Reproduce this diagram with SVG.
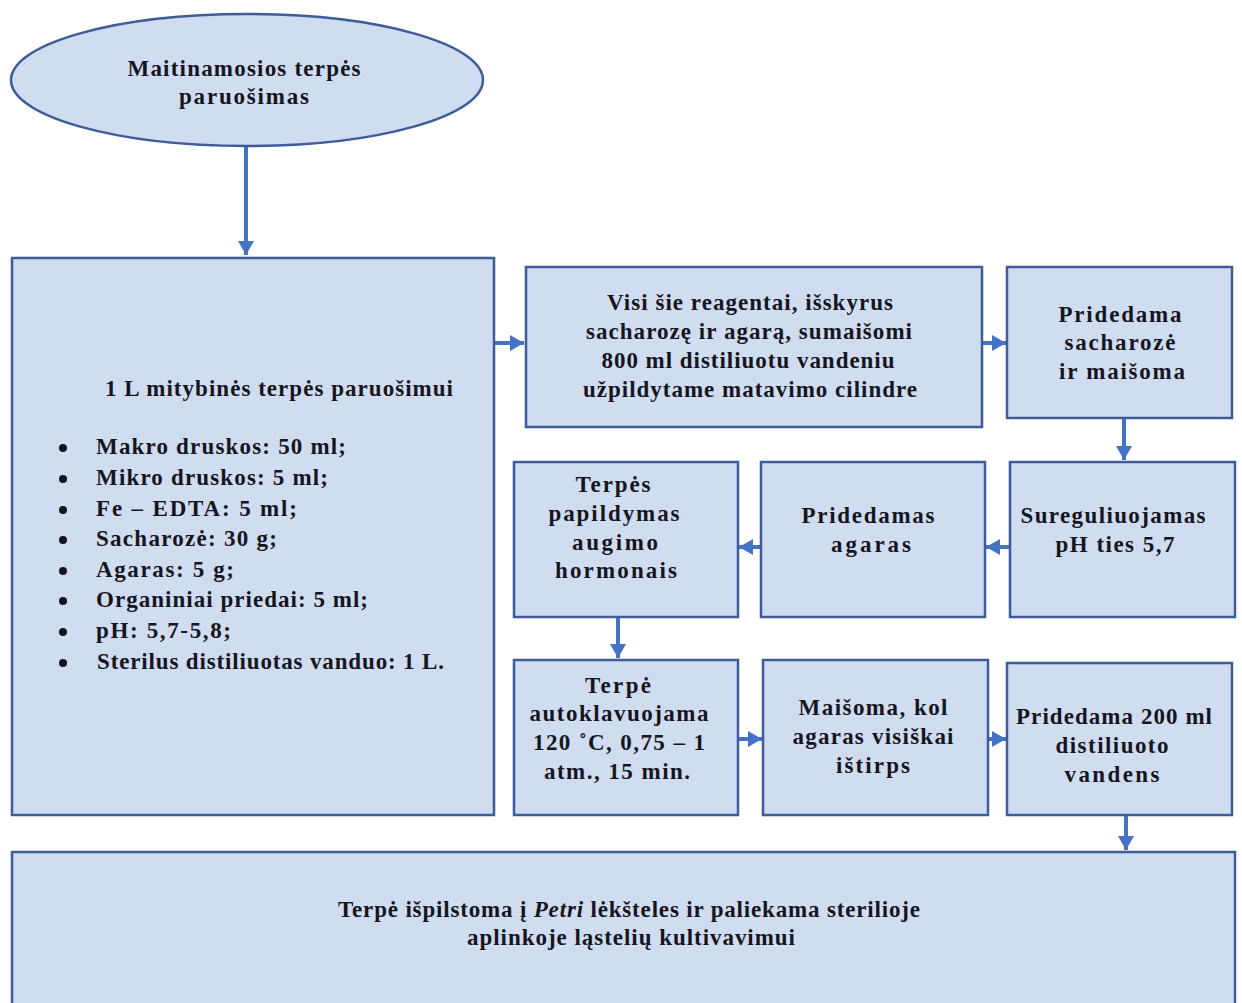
<svg xmlns="http://www.w3.org/2000/svg" width="1242" height="1003" viewBox="0 0 1242 1003">
<style>
.box{fill:#D0DDF0;stroke:#3E5C9A;stroke-width:2.5}
.t{font-family:"Liberation Serif","Times New Roman",serif;font-weight:bold;font-size:23px;fill:#15151f;text-anchor:middle}
.l{text-anchor:start}
.c{fill:none;stroke:#4472C4;stroke-width:4;marker-end:url(#ah)}
</style>
<defs>
<marker id="ah" markerUnits="userSpaceOnUse" markerWidth="16" markerHeight="16" refX="14" refY="8" orient="auto">
<path d="M0,0 L14,8 L0,16 Z" fill="#4472C4"/>
</marker>
</defs>
<rect width="1242" height="1003" fill="#fff"/>
<g id="connectors">
<path class="c" d="M246,147 V255"/>
<path class="c" d="M495,343 H524"/>
<path class="c" d="M983,343 H1006"/>
<path class="c" d="M1124,419 V460"/>
<path class="c" d="M1010,547 H986"/>
<path class="c" d="M761,547 H739"/>
<path class="c" d="M618,618 V658"/>
<path class="c" d="M739,739 H762"/>
<path class="c" d="M989,739 H1006"/>
<path class="c" d="M1126,816 V850"/>
</g>
<g id="start">
<ellipse class="box" cx="247" cy="80" rx="236" ry="66"/>
<text class="t" x="244" y="76" textLength="233" lengthAdjust="spacing">Maitinamosios terpės</text>
<text class="t" x="244" y="104" textLength="130" lengthAdjust="spacing">paruošimas</text>
</g>
<g id="ingredients">
<rect class="box" x="12" y="258" width="482" height="557"/>
<text class="t" x="279" y="396" textLength="348" lengthAdjust="spacing">1 L mitybinės terpės paruošimui</text>
<text class="t l" x="96" y="454" textLength="250" lengthAdjust="spacing">Makro druskos: 50 ml;</text>
<text class="t l" x="96" y="485" textLength="232" lengthAdjust="spacing">Mikro druskos: 5 ml;</text>
<text class="t l" x="96" y="516" textLength="201" lengthAdjust="spacing">Fe – EDTA: 5 ml;</text>
<text class="t l" x="96" y="546" textLength="181" lengthAdjust="spacing">Sacharozė: 30 g;</text>
<text class="t l" x="96" y="577" textLength="138" lengthAdjust="spacing">Agaras: 5 g;</text>
<text class="t l" x="96" y="607" textLength="272" lengthAdjust="spacing">Organiniai priedai: 5 ml;</text>
<text class="t l" x="96" y="638" textLength="135" lengthAdjust="spacing">pH: 5,7-5,8;</text>
<text class="t l" x="97" y="669" textLength="347" lengthAdjust="spacing">Sterilus distiliuotas vanduo: 1 L.</text>
<g fill="#15151f">
<circle cx="63" cy="448" r="4"/>
<circle cx="63" cy="479" r="4"/>
<circle cx="63" cy="510" r="4"/>
<circle cx="63" cy="540" r="4"/>
<circle cx="63" cy="571" r="4"/>
<circle cx="63" cy="601" r="4"/>
<circle cx="63" cy="632" r="4"/>
<circle cx="63" cy="663" r="4"/>
</g>
</g>
<g id="mix">
<rect class="box" x="526" y="267" width="456" height="160"/>
<text class="t" x="750" y="310" textLength="286" lengthAdjust="spacing">Visi šie reagentai, išskyrus</text>
<text class="t" x="749" y="339" textLength="326" lengthAdjust="spacing">sacharozę ir agarą, sumaišomi</text>
<text class="t" x="748" y="368" textLength="293" lengthAdjust="spacing">800 ml distiliuotu vandeniu</text>
<text class="t" x="750" y="397" textLength="334" lengthAdjust="spacing">užpildytame matavimo cilindre</text>
</g>
<g id="sucrose">
<rect class="box" x="1007" y="267" width="225" height="151"/>
<text class="t" x="1120" y="322" textLength="123" lengthAdjust="spacing">Pridedama</text>
<text class="t" x="1120" y="350" textLength="111" lengthAdjust="spacing">sacharozė</text>
<text class="t" x="1122" y="379" textLength="126" lengthAdjust="spacing">ir maišoma</text>
</g>
<g id="ph">
<rect class="box" x="1010" y="462" width="225" height="155"/>
<text class="t" x="1113" y="523" textLength="185" lengthAdjust="spacing">Sureguliuojamas</text>
<text class="t" x="1115" y="552" textLength="119" lengthAdjust="spacing">pH ties 5,7</text>
</g>
<g id="agar">
<rect class="box" x="761" y="462" width="224" height="155"/>
<text class="t" x="868" y="523" textLength="133" lengthAdjust="spacing">Pridedamas</text>
<text class="t" x="871" y="552" textLength="80" lengthAdjust="spacing">agaras</text>
</g>
<g id="hormones">
<rect class="box" x="514" y="462" width="224" height="155"/>
<text class="t" x="613" y="492" textLength="75" lengthAdjust="spacing">Terpės</text>
<text class="t" x="614" y="521" textLength="131" lengthAdjust="spacing">papildymas</text>
<text class="t" x="615" y="550" textLength="86" lengthAdjust="spacing">augimo</text>
<text class="t" x="616" y="578" textLength="122" lengthAdjust="spacing">hormonais</text>
</g>
<g id="autoclave">
<rect class="box" x="514" y="660" width="224" height="155"/>
<text class="t" x="618" y="693" textLength="66" lengthAdjust="spacing">Terpė</text>
<text class="t" x="619" y="721" textLength="179" lengthAdjust="spacing">autoklavuojama</text>
<text class="t" x="619" y="750" textLength="172" lengthAdjust="spacing">120 ˚C, 0,75 – 1</text>
<text class="t" x="617" y="779" textLength="146" lengthAdjust="spacing">atm., 15 min.</text>
</g>
<g id="stir">
<rect class="box" x="763" y="660" width="225" height="155"/>
<text class="t" x="873" y="715" textLength="149" lengthAdjust="spacing">Maišoma, kol</text>
<text class="t" x="873" y="744" textLength="161" lengthAdjust="spacing">agaras visiškai</text>
<text class="t" x="873" y="773" textLength="74" lengthAdjust="spacing">ištirps</text>
</g>
<g id="water">
<rect class="box" x="1007" y="663" width="225" height="152"/>
<text class="t" x="1114" y="724" textLength="196" lengthAdjust="spacing">Pridedama 200 ml</text>
<text class="t" x="1112" y="753" textLength="113" lengthAdjust="spacing">distiliuoto</text>
<text class="t" x="1112" y="782" textLength="95" lengthAdjust="spacing">vandens</text>
</g>
<g id="petri">
<rect class="box" x="12" y="852" width="1223" height="160"/>
<text class="t" x="629" y="917" textLength="582" lengthAdjust="spacing">Terpė išpilstoma į <tspan font-style="italic">Petri</tspan> lėkšteles ir paliekama sterilioje</text>
<text class="t" x="631" y="945" textLength="328" lengthAdjust="spacing">aplinkoje ląstelių kultivavimui</text>
</g>
</svg>
